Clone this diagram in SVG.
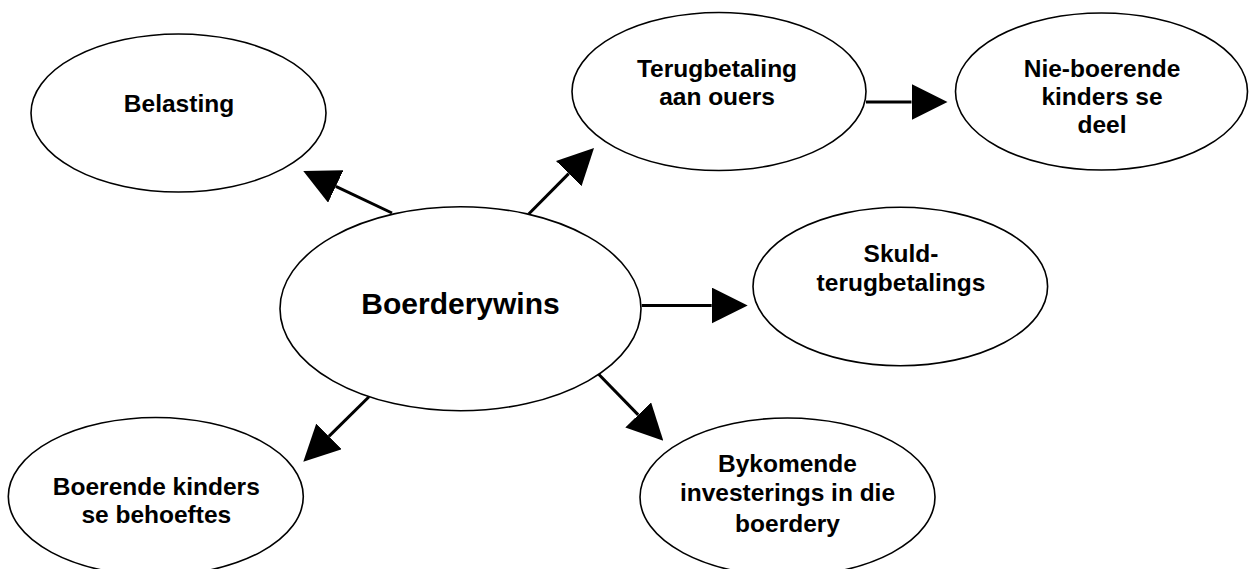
<svg xmlns="http://www.w3.org/2000/svg" width="1249" height="569" viewBox="0 0 1249 569">
<defs>
<style>
.node ellipse{fill:#fff;stroke:#000;stroke-width:1.6}
.node text{font-family:"Liberation Sans",Arial,sans-serif;font-weight:bold;font-size:24.5px;fill:#000;text-anchor:middle}
.conn line{stroke:#000;stroke-width:3;marker-end:url(#ah)}
</style>
<marker id="ah" viewBox="0 0 36 36" refX="0" refY="18" markerWidth="36" markerHeight="36" markerUnits="userSpaceOnUse" orient="auto">
<path d="M0,0 L36,18 L0,36 z" fill="#000"/>
</marker>
</defs>
<rect width="1249" height="569" fill="#fff"/>
<g id="connectors" class="conn">
<line x1="392" y1="213" x2="335.8" y2="186.4"/>
<line x1="528.7" y1="214" x2="568.7" y2="173.6"/>
<line x1="641.7" y1="305.5" x2="711.7" y2="305.5"/>
<line x1="866" y1="102" x2="911.5" y2="102"/>
<line x1="369" y1="396.7" x2="328.9" y2="436.4"/>
<line x1="597.7" y1="373.3" x2="638.2" y2="414.9"/>
</g>
<g id="belasting" class="node">
<ellipse cx="178.5" cy="113" rx="147.5" ry="79"/>
<text x="179" y="112">Belasting</text>
</g>
<g id="terugbetaling" class="node">
<ellipse cx="719" cy="91.5" rx="147" ry="79"/>
<text x="717" y="77">Terugbetaling</text>
<text x="717" y="105">aan ouers</text>
</g>
<g id="nie-boerende" class="node">
<ellipse cx="1101.5" cy="91.5" rx="146" ry="78.5"/>
<text x="1102" y="77">Nie-boerende</text>
<text x="1102" y="105">kinders se</text>
<text x="1102" y="133">deel</text>
</g>
<g id="boerderywins" class="node">
<ellipse cx="460.5" cy="308.7" rx="180.5" ry="102"/>
<text x="460.5" y="314" style="font-size:30px">Boerderywins</text>
</g>
<g id="skuld" class="node">
<ellipse cx="900.3" cy="286.5" rx="147.3" ry="79.2"/>
<text x="901" y="261.7">Skuld-</text>
<text x="901" y="291">terugbetalings</text>
</g>
<g id="boerende" class="node">
<ellipse cx="155.8" cy="496.5" rx="147.5" ry="79"/>
<text x="156.3" y="495">Boerende kinders</text>
<text x="156.3" y="523.3">se behoeftes</text>
</g>
<g id="bykomende" class="node">
<ellipse cx="787.5" cy="497" rx="147.5" ry="79"/>
<text x="787.5" y="471.7">Bykomende</text>
<text x="787.5" y="501">investerings in die</text>
<text x="787.5" y="531.5">boerdery</text>
</g>
</svg>
